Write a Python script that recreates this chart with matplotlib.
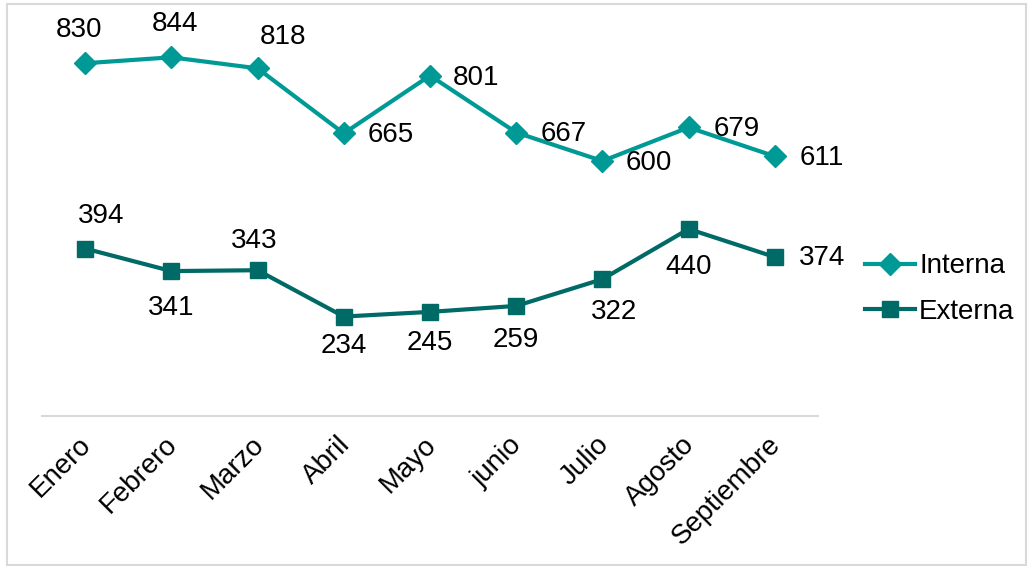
import matplotlib
matplotlib.use("Agg")
import matplotlib.pyplot as plt
import matplotlib.transforms as mtransforms
from matplotlib.patches import Rectangle

meses = ['Enero', 'Febrero', 'Marzo', 'Abril', 'Mayo', 'junio', 'Julio', 'Agosto', 'Septiembre']
interna = [830, 844, 818, 665, 801, 667, 600, 679, 611]
externa = [394, 341, 343, 234, 245, 259, 322, 440, 374]

# label offsets in pixels (dx, dy) relative to each point
off_int = [(-6, 33), (4, 33), (25, 31), (47, -2), (46, -2), (47, -1), (46, -2), (48, -2), (47, -2)]
off_ext = [(16, 33), (0, -37), (-3, 29), (0, -29), (0, -31), (0, -34), (12, -33), (0, -38), (47, -1)]

c_int = '#009A96'
c_ext = '#006A66'

plt.rcParams['font.family'] = ['Liberation Sans', 'DejaVu Sans']

fig = plt.figure(figsize=(10.29, 5.66), dpi=100)
fig.patches.append(Rectangle((7 / 1029, 0.002), 1019 / 1029, 1 - 4 / 566 - 0.002,
                             transform=fig.transFigure, fill=False,
                             edgecolor='#d9d9d9', linewidth=1.5))

ax = fig.add_axes([42 / 1029, 150 / 566, 776 / 1029, 382.5 / 566])
x = list(range(len(meses)))

ax.plot(x, interna, color=c_int, lw=3, marker='D', ms=11, label='Interna')
ax.plot(x, externa, color=c_ext, lw=3, marker='s', ms=11, label='Externa')

for i in x:
    ax.annotate(str(interna[i]), (i, interna[i]), xytext=(off_int[i][0] * 0.72, off_int[i][1] * 0.72),
                textcoords='offset points', ha='center', va='center', fontsize=20)
    ax.annotate(str(externa[i]), (i, externa[i]), xytext=(off_ext[i][0] * 0.72, off_ext[i][1] * 0.72),
                textcoords='offset points', ha='center', va='center', fontsize=20)

ax.set_xlim(-0.5, 8.5)
ax.set_ylim(0, 900)
ax.set_xticks(x)
ax.set_xticklabels(meses, rotation=45, ha='right', rotation_mode='anchor', fontsize=20)
ax.tick_params(axis='x', length=0, pad=12)
shift = mtransforms.ScaledTranslation(-7 / 100, 1 / 100, fig.dpi_scale_trans)
for lab in ax.get_xticklabels():
    lab.set_transform(lab.get_transform() + shift)
ax.set_yticks([])
for s in ['top', 'right', 'left']:
    ax.spines[s].set_visible(False)
ax.spines['bottom'].set_color('#d9d9d9')
ax.spines['bottom'].set_linewidth(1.5)

ax.legend(loc='center left', bbox_to_anchor=(840 / 1029, 277 / 566), bbox_transform=fig.transFigure,
          frameon=False, fontsize=20, handlelength=1.8, handletextpad=0.15, labelspacing=0.7)

fig.savefig('out.png', dpi=100)
